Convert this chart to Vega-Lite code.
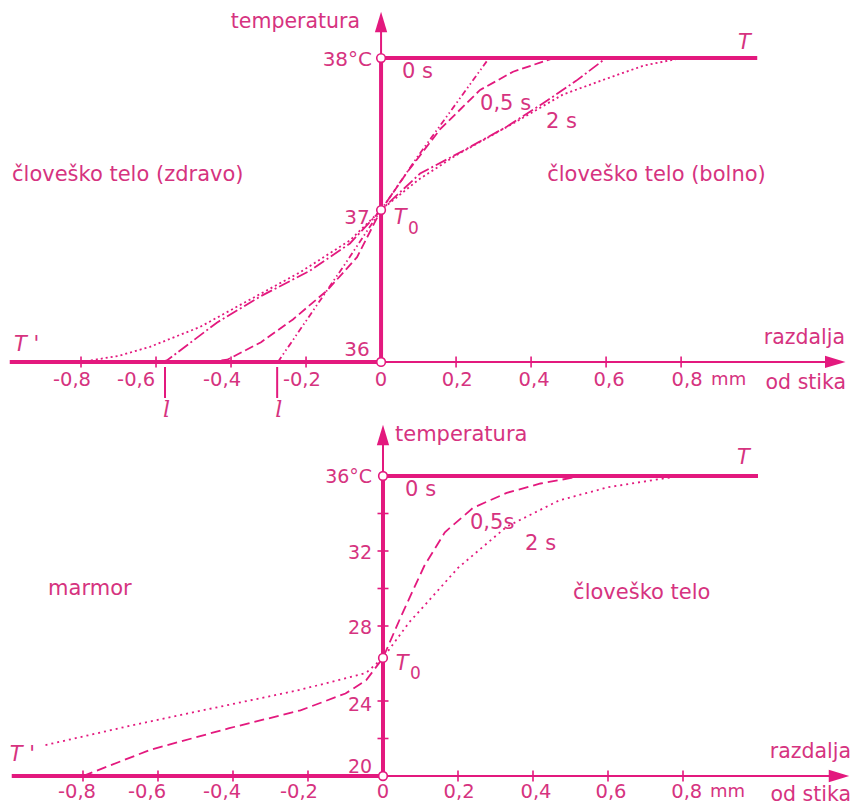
{
  "$schema": "https://vega.github.io/schema/vega-lite/v6.json",
  "padding": 0,
  "spacing": 0,
  "background": "white",
  "config": {"view": {"stroke": null}},
  "datasets": {
    "top": [
      {"kind": "curve", "series": "A", "x": -0.275, "t": 36.0},
      {"kind": "curve", "series": "A", "x": -0.2, "t": 36.27},
      {"kind": "curve", "series": "A", "x": -0.1, "t": 36.63},
      {"kind": "curve", "series": "A", "x": 0, "t": 37.0},
      {"kind": "curve", "series": "A", "x": 0.1, "t": 37.36},
      {"kind": "curve", "series": "A", "x": 0.2, "t": 37.7},
      {"kind": "curve", "series": "A", "x": 0.288, "t": 38.0},

      {"kind": "curve", "series": "B", "x": -0.46, "t": 36.0},
      {"kind": "curve", "series": "B", "x": -0.41, "t": 36.015},
      {"kind": "curve", "series": "B", "x": -0.32, "t": 36.13},
      {"kind": "curve", "series": "B", "x": -0.235, "t": 36.28},
      {"kind": "curve", "series": "B", "x": -0.144, "t": 36.47},
      {"kind": "curve", "series": "B", "x": -0.064, "t": 36.69},
      {"kind": "curve", "series": "B", "x": 0, "t": 37.0},
      {"kind": "curve", "series": "B", "x": 0.07, "t": 37.25},
      {"kind": "curve", "series": "B", "x": 0.157, "t": 37.53},
      {"kind": "curve", "series": "B", "x": 0.264, "t": 37.79},
      {"kind": "curve", "series": "B", "x": 0.352, "t": 37.91},
      {"kind": "curve", "series": "B", "x": 0.424, "t": 37.97},
      {"kind": "curve", "series": "B", "x": 0.46, "t": 38.0},

      {"kind": "curve", "series": "C", "x": -0.585, "t": 36.0},
      {"kind": "curve", "series": "C", "x": -0.571, "t": 36.01},
      {"kind": "curve", "series": "C", "x": -0.437, "t": 36.26},
      {"kind": "curve", "series": "C", "x": -0.323, "t": 36.43},
      {"kind": "curve", "series": "C", "x": -0.19, "t": 36.6},
      {"kind": "curve", "series": "C", "x": -0.083, "t": 36.78},
      {"kind": "curve", "series": "C", "x": 0, "t": 37.0},
      {"kind": "curve", "series": "C", "x": 0.104, "t": 37.24},
      {"kind": "curve", "series": "C", "x": 0.219, "t": 37.39},
      {"kind": "curve", "series": "C", "x": 0.336, "t": 37.55},
      {"kind": "curve", "series": "C", "x": 0.443, "t": 37.72},
      {"kind": "curve", "series": "C", "x": 0.52, "t": 37.85},
      {"kind": "curve", "series": "C", "x": 0.6, "t": 38.0},

      {"kind": "curve", "series": "D", "x": -0.8, "t": 36.0},
      {"kind": "curve", "series": "D", "x": -0.7, "t": 36.04},
      {"kind": "curve", "series": "D", "x": -0.616, "t": 36.1},
      {"kind": "curve", "series": "D", "x": -0.483, "t": 36.23},
      {"kind": "curve", "series": "D", "x": -0.35, "t": 36.41},
      {"kind": "curve", "series": "D", "x": -0.216, "t": 36.59},
      {"kind": "curve", "series": "D", "x": -0.083, "t": 36.8},
      {"kind": "curve", "series": "D", "x": 0, "t": 37.0},
      {"kind": "curve", "series": "D", "x": 0.1, "t": 37.2},
      {"kind": "curve", "series": "D", "x": 0.2, "t": 37.36},
      {"kind": "curve", "series": "D", "x": 0.28, "t": 37.47},
      {"kind": "curve", "series": "D", "x": 0.352, "t": 37.57},
      {"kind": "curve", "series": "D", "x": 0.485, "t": 37.76},
      {"kind": "curve", "series": "D", "x": 0.619, "t": 37.88},
      {"kind": "curve", "series": "D", "x": 0.7, "t": 37.95},
      {"kind": "curve", "series": "D", "x": 0.8, "t": 38.0},

      {"kind": "thick", "x": -0.99, "x2": 0, "t": 36, "t2": 36},
      {"kind": "thick", "x": 0, "x2": 1.003, "t": 38, "t2": 38},
      {"kind": "thick", "x": 0, "x2": 0, "t": 36, "t2": 38},
      {"kind": "thin", "x": 0, "x2": 1.2, "t": 36, "t2": 36},
      {"kind": "thin", "x": 0, "x2": 0, "t": 38, "t2": 38.2},
      {"kind": "thin", "x": -0.576, "x2": -0.576, "t": 35.967, "t2": 35.763},
      {"kind": "thin", "x": -0.277, "x2": -0.277, "t": 35.967, "t2": 35.763},

      {"kind": "arrowUp", "x": 0, "t": 38.237},
      {"kind": "arrowRight", "x": 1.211, "t": 36},

      {"kind": "circle", "x": 0, "t": 38},
      {"kind": "circle", "x": 0, "t": 37},
      {"kind": "circle", "x": 0, "t": 36},

      {"kind": "xtick", "x": -0.8, "t": 36},
      {"kind": "xtick", "x": -0.6, "t": 36},
      {"kind": "xtick", "x": -0.4, "t": 36},
      {"kind": "xtick", "x": -0.2, "t": 36},
      {"kind": "xtick", "x": 0.2, "t": 36},
      {"kind": "xtick", "x": 0.4, "t": 36},
      {"kind": "xtick", "x": 0.6, "t": 36},
      {"kind": "xtick", "x": 0.8, "t": 36},

      {"kind": "tickLab", "label": "-0,8", "x": -0.824, "t": 35.882},
      {"kind": "tickLab", "label": "-0,6", "x": -0.653, "t": 35.882},
      {"kind": "tickLab", "label": "-0,4", "x": -0.424, "t": 35.882},
      {"kind": "tickLab", "label": "-0,2", "x": -0.211, "t": 35.882},
      {"kind": "tickLab", "label": "0", "x": 0, "t": 35.882},
      {"kind": "tickLab", "label": "0,2", "x": 0.203, "t": 35.882},
      {"kind": "tickLab", "label": "0,4", "x": 0.408, "t": 35.882},
      {"kind": "tickLab", "label": "0,6", "x": 0.608, "t": 35.882},
      {"kind": "tickLab", "label": "0,8", "x": 0.816, "t": 35.882},
      {"kind": "mm", "label": "mm", "x": 0.88, "t": 35.882},

      {"kind": "yLab", "label": "38°C", "x": -0.024, "t": 37.99},
      {"kind": "yLab", "label": "37", "x": -0.03, "t": 36.95},
      {"kind": "yLab", "label": "36", "x": -0.03, "t": 36.08},

      {"kind": "labR", "label": "temperatura", "x": -0.056, "t": 38.237},
      {"kind": "labR", "label": "razdalja", "x": 1.237, "t": 36.158},
      {"kind": "labR", "label": "od stika", "x": 1.24, "t": 35.862},

      {"kind": "lab", "label": "človeško telo (zdravo)", "x": -0.984, "t": 37.23},
      {"kind": "lab", "label": "človeško telo (bolno)", "x": 0.443, "t": 37.23},
      {"kind": "lab", "label": "0 s", "x": 0.056, "t": 37.91},
      {"kind": "lab", "label": "0,5 s", "x": 0.264, "t": 37.70},
      {"kind": "lab", "label": "2 s", "x": 0.44, "t": 37.58},

      {"kind": "ital", "label": "T", "x": 0.952, "t": 38.1},
      {"kind": "ital", "label": "T", "x": 0.034, "t": 36.947},
      {"kind": "ital", "label": "T '", "x": -0.979, "t": 36.112},
      {"kind": "sub", "label": "0", "x": 0.072, "t": 36.875},
      {"kind": "italC", "label": "l", "x": -0.572, "t": 35.684},
      {"kind": "italC", "label": "l", "x": -0.273, "t": 35.684}
    ],
    "bottom": [
      {"kind": "curve", "series": "E", "x": -0.8, "t": 20.0},
      {"kind": "curve", "series": "E", "x": -0.62, "t": 21.4},
      {"kind": "curve", "series": "E", "x": -0.41, "t": 22.55},
      {"kind": "curve", "series": "E", "x": -0.22, "t": 23.5},
      {"kind": "curve", "series": "E", "x": -0.1, "t": 24.4},
      {"kind": "curve", "series": "E", "x": -0.045, "t": 25.1},
      {"kind": "curve", "series": "E", "x": 0, "t": 26.3},
      {"kind": "curve", "series": "E", "x": 0.05, "t": 28.6},
      {"kind": "curve", "series": "E", "x": 0.11, "t": 31.2},
      {"kind": "curve", "series": "E", "x": 0.165, "t": 33.0},
      {"kind": "curve", "series": "E", "x": 0.24, "t": 34.3},
      {"kind": "curve", "series": "E", "x": 0.33, "t": 35.1},
      {"kind": "curve", "series": "E", "x": 0.42, "t": 35.6},
      {"kind": "curve", "series": "E", "x": 0.53, "t": 36.0},

      {"kind": "curve", "series": "F", "x": -0.9, "t": 21.65},
      {"kind": "curve", "series": "F", "x": -0.67, "t": 22.7},
      {"kind": "curve", "series": "F", "x": -0.41, "t": 23.8},
      {"kind": "curve", "series": "F", "x": -0.22, "t": 24.6},
      {"kind": "curve", "series": "F", "x": -0.045, "t": 25.5},
      {"kind": "curve", "series": "F", "x": 0, "t": 26.3},
      {"kind": "curve", "series": "F", "x": 0.07, "t": 28.2},
      {"kind": "curve", "series": "F", "x": 0.12, "t": 29.3},
      {"kind": "curve", "series": "F", "x": 0.2, "t": 31.1},
      {"kind": "curve", "series": "F", "x": 0.33, "t": 33.3},
      {"kind": "curve", "series": "F", "x": 0.47, "t": 34.7},
      {"kind": "curve", "series": "F", "x": 0.6, "t": 35.4},
      {"kind": "curve", "series": "F", "x": 0.79, "t": 36.0},

      {"kind": "thick", "x": -0.99, "x2": 0, "t": 20, "t2": 20},
      {"kind": "thick", "x": 0, "x2": 1.0, "t": 36, "t2": 36},
      {"kind": "thick", "x": 0, "x2": 0, "t": 20, "t2": 36},
      {"kind": "thin", "x": 0, "x2": 1.2, "t": 20, "t2": 20},
      {"kind": "thin", "x": 0, "x2": 0, "t": 36, "t2": 38.0},

      {"kind": "arrowUp", "x": 0, "t": 38.19},
      {"kind": "arrowRight", "x": 1.216, "t": 20},

      {"kind": "circle", "x": 0, "t": 36},
      {"kind": "circle", "x": 0, "t": 26.3},
      {"kind": "circle", "x": 0, "t": 20},

      {"kind": "xtick", "x": -0.8, "t": 20},
      {"kind": "xtick", "x": -0.6, "t": 20},
      {"kind": "xtick", "x": -0.4, "t": 20},
      {"kind": "xtick", "x": -0.2, "t": 20},
      {"kind": "xtick", "x": 0.2, "t": 20},
      {"kind": "xtick", "x": 0.4, "t": 20},
      {"kind": "xtick", "x": 0.6, "t": 20},
      {"kind": "xtick", "x": 0.8, "t": 20},
      {"kind": "ytick", "x": 0, "t": 22},
      {"kind": "ytick", "x": 0, "t": 24},
      {"kind": "ytick", "x": 0, "t": 28},
      {"kind": "ytick", "x": 0, "t": 30},
      {"kind": "ytick", "x": 0, "t": 32},
      {"kind": "ytick", "x": 0, "t": 34},

      {"kind": "tickLab", "label": "-0,8", "x": -0.816, "t": 19.15},
      {"kind": "tickLab", "label": "-0,6", "x": -0.629, "t": 19.15},
      {"kind": "tickLab", "label": "-0,4", "x": -0.429, "t": 19.15},
      {"kind": "tickLab", "label": "-0,2", "x": -0.224, "t": 19.15},
      {"kind": "tickLab", "label": "0", "x": 0, "t": 19.15},
      {"kind": "tickLab", "label": "0,2", "x": 0.203, "t": 19.15},
      {"kind": "tickLab", "label": "0,4", "x": 0.408, "t": 19.15},
      {"kind": "tickLab", "label": "0,6", "x": 0.608, "t": 19.15},
      {"kind": "tickLab", "label": "0,8", "x": 0.81, "t": 19.15},
      {"kind": "mm", "label": "mm", "x": 0.872, "t": 19.15},

      {"kind": "yLab", "label": "36°C", "x": -0.029, "t": 35.95},
      {"kind": "yLab", "label": "32", "x": -0.029, "t": 31.9},
      {"kind": "yLab", "label": "28", "x": -0.029, "t": 27.9},
      {"kind": "yLab", "label": "24", "x": -0.029, "t": 23.8},
      {"kind": "yLab", "label": "20", "x": -0.029, "t": 20.5},

      {"kind": "labR", "label": "razdalja", "x": 1.248, "t": 21.3},
      {"kind": "labR", "label": "od stika", "x": 1.248, "t": 18.97},

      {"kind": "lab", "label": "temperatura", "x": 0.032, "t": 38.19},
      {"kind": "lab", "label": "0 s", "x": 0.059, "t": 35.25},
      {"kind": "lab", "label": "0,5s", "x": 0.232, "t": 33.5},
      {"kind": "lab", "label": "2 s", "x": 0.379, "t": 32.4},
      {"kind": "lab", "label": "marmor", "x": -0.893, "t": 30.0},
      {"kind": "lab", "label": "človeško telo", "x": 0.507, "t": 29.76},

      {"kind": "ital", "label": "T", "x": 0.944, "t": 36.96},
      {"kind": "ital", "label": "T", "x": 0.034, "t": 26.0},
      {"kind": "ital", "label": "T '", "x": -0.995, "t": 21.1},
      {"kind": "sub", "label": "0", "x": 0.072, "t": 25.45}
    ]
  },
  "vconcat": [
    {
      "width": 851,
      "height": 422,
      "data": {"name": "top"},
      "encoding": {
        "x": {"field": "x", "type": "quantitative", "scale": {"domain": [-1.016, 1.253], "nice": false, "zero": false}, "axis": null},
        "y": {"field": "t", "type": "quantitative", "scale": {"domain": [35.605, 38.382], "nice": false, "zero": false}, "axis": null}
      },
      "layer": [
        {"transform": [{"filter": "datum.kind === 'curve'"}], "mark": {"type": "line", "stroke": "#e3197e", "strokeWidth": 1.8, "clip": true},
         "encoding": {"strokeDash": {"field": "series", "type": "nominal", "scale": {"domain": ["A", "B", "C", "D", "E", "F"], "range": [[6, 3, 1.5, 3, 1.5, 3], [9, 4], [12, 3, 2, 3], [2, 3], [10, 5], [2, 4]]}, "legend": null}, "order": {"field": "x", "type": "quantitative"}}},
        {"transform": [{"filter": "datum.kind === 'thick'"}], "mark": {"type": "rule", "stroke": "#e3197e", "strokeWidth": 4, "clip": true},
         "encoding": {"x2": {"field": "x2"}, "y2": {"field": "t2"}}},
        {"transform": [{"filter": "datum.kind === 'thin'"}], "mark": {"type": "rule", "stroke": "#e3197e", "strokeWidth": 2, "clip": true},
         "encoding": {"x2": {"field": "x2"}, "y2": {"field": "t2"}}},
        {"transform": [{"filter": "datum.kind === 'xtick'"}], "mark": {"type": "tick", "orient": "vertical", "size": 11, "thickness": 1.6, "color": "#e3197e", "opacity": 1, "clip": true}},
        {"transform": [{"filter": "datum.kind === 'arrowUp'"}], "mark": {"type": "point", "shape": "M0,-1L0.6,1L-0.6,1Z", "size": 420, "filled": true, "color": "#e3197e", "opacity": 1, "clip": true}},
        {"transform": [{"filter": "datum.kind === 'arrowRight'"}], "mark": {"type": "point", "shape": "M1,0L-1,0.6L-1,-0.6Z", "size": 420, "filled": true, "color": "#e3197e", "opacity": 1, "clip": true}},
        {"transform": [{"filter": "datum.kind === 'circle'"}], "mark": {"type": "point", "shape": "circle", "size": 75, "filled": true, "fill": "white", "stroke": "#e3197e", "strokeWidth": 1.6, "opacity": 1, "clip": true}},
        {"transform": [{"filter": "datum.kind === 'tickLab'"}], "mark": {"type": "text", "align": "center", "baseline": "middle", "font": "DejaVu Sans", "fontSize": 19.5, "fill": "#d6337f", "clip": true}, "encoding": {"text": {"field": "label"}}},
        {"transform": [{"filter": "datum.kind === 'mm'"}], "mark": {"type": "text", "align": "left", "baseline": "middle", "font": "DejaVu Sans", "fontSize": 18, "fill": "#d6337f", "clip": true}, "encoding": {"text": {"field": "label"}}},
        {"transform": [{"filter": "datum.kind === 'yLab'"}], "mark": {"type": "text", "align": "right", "baseline": "middle", "font": "DejaVu Sans", "fontSize": 20, "fill": "#d6337f", "clip": true}, "encoding": {"text": {"field": "label"}}},
        {"transform": [{"filter": "datum.kind === 'labR'"}], "mark": {"type": "text", "align": "right", "baseline": "middle", "font": "DejaVu Sans", "fontSize": 20.5, "fill": "#d6337f", "clip": true}, "encoding": {"text": {"field": "label"}}},
        {"transform": [{"filter": "datum.kind === 'lab'"}], "mark": {"type": "text", "align": "left", "baseline": "middle", "font": "DejaVu Sans", "fontSize": 21, "fill": "#d6337f", "clip": true}, "encoding": {"text": {"field": "label"}}},
        {"transform": [{"filter": "datum.kind === 'ital'"}], "mark": {"type": "text", "align": "left", "baseline": "middle", "font": "DejaVu Sans", "fontStyle": "italic", "fontSize": 21, "fill": "#d6337f", "clip": true}, "encoding": {"text": {"field": "label"}}},
        {"transform": [{"filter": "datum.kind === 'sub'"}], "mark": {"type": "text", "align": "left", "baseline": "middle", "font": "DejaVu Sans", "fontSize": 17, "fill": "#d6337f", "clip": true}, "encoding": {"text": {"field": "label"}}},
        {"transform": [{"filter": "datum.kind === 'italC'"}], "mark": {"type": "text", "align": "center", "baseline": "middle", "font": "DejaVu Serif", "fontStyle": "italic", "fontSize": 22, "fill": "#d6337f", "clip": true}, "encoding": {"text": {"field": "label"}}}
      ]
    },
    {
      "width": 851,
      "height": 384,
      "data": {"name": "bottom"},
      "encoding": {
        "x": {"field": "x", "type": "quantitative", "scale": {"domain": [-1.0213, 1.248], "nice": false, "zero": false}, "axis": null},
        "y": {"field": "t", "type": "quantitative", "scale": {"domain": [18.4, 38.88], "nice": false, "zero": false}, "axis": null}
      },
      "layer": [
        {"transform": [{"filter": "datum.kind === 'curve'"}], "mark": {"type": "line", "stroke": "#e3197e", "strokeWidth": 1.8, "clip": true},
         "encoding": {"strokeDash": {"field": "series", "type": "nominal", "scale": {"domain": ["A", "B", "C", "D", "E", "F"], "range": [[6, 3, 1.5, 3, 1.5, 3], [9, 4], [12, 3, 2, 3], [2, 3], [10, 5], [2, 4]]}, "legend": null}, "order": {"field": "x", "type": "quantitative"}}},
        {"transform": [{"filter": "datum.kind === 'thick'"}], "mark": {"type": "rule", "stroke": "#e3197e", "strokeWidth": 4, "clip": true},
         "encoding": {"x2": {"field": "x2"}, "y2": {"field": "t2"}}},
        {"transform": [{"filter": "datum.kind === 'thin'"}], "mark": {"type": "rule", "stroke": "#e3197e", "strokeWidth": 2, "clip": true},
         "encoding": {"x2": {"field": "x2"}, "y2": {"field": "t2"}}},
        {"transform": [{"filter": "datum.kind === 'xtick'"}], "mark": {"type": "tick", "orient": "vertical", "size": 11, "thickness": 1.6, "color": "#e3197e", "opacity": 1, "clip": true}},
        {"transform": [{"filter": "datum.kind === 'ytick'"}], "mark": {"type": "tick", "orient": "horizontal", "size": 11, "thickness": 1.6, "color": "#e3197e", "opacity": 1, "clip": true}},
        {"transform": [{"filter": "datum.kind === 'arrowUp'"}], "mark": {"type": "point", "shape": "M0,-1L0.6,1L-0.6,1Z", "size": 420, "filled": true, "color": "#e3197e", "opacity": 1, "clip": true}},
        {"transform": [{"filter": "datum.kind === 'arrowRight'"}], "mark": {"type": "point", "shape": "M1,0L-1,0.6L-1,-0.6Z", "size": 420, "filled": true, "color": "#e3197e", "opacity": 1, "clip": true}},
        {"transform": [{"filter": "datum.kind === 'circle'"}], "mark": {"type": "point", "shape": "circle", "size": 75, "filled": true, "fill": "white", "stroke": "#e3197e", "strokeWidth": 1.6, "opacity": 1, "clip": true}},
        {"transform": [{"filter": "datum.kind === 'tickLab'"}], "mark": {"type": "text", "align": "center", "baseline": "middle", "font": "DejaVu Sans", "fontSize": 19.5, "fill": "#d6337f", "clip": true}, "encoding": {"text": {"field": "label"}}},
        {"transform": [{"filter": "datum.kind === 'mm'"}], "mark": {"type": "text", "align": "left", "baseline": "middle", "font": "DejaVu Sans", "fontSize": 18, "fill": "#d6337f", "clip": true}, "encoding": {"text": {"field": "label"}}},
        {"transform": [{"filter": "datum.kind === 'yLab'"}], "mark": {"type": "text", "align": "right", "baseline": "middle", "font": "DejaVu Sans", "fontSize": 19, "fill": "#d6337f", "clip": true}, "encoding": {"text": {"field": "label"}}},
        {"transform": [{"filter": "datum.kind === 'labR'"}], "mark": {"type": "text", "align": "right", "baseline": "middle", "font": "DejaVu Sans", "fontSize": 20.5, "fill": "#d6337f", "clip": true}, "encoding": {"text": {"field": "label"}}},
        {"transform": [{"filter": "datum.kind === 'lab'"}], "mark": {"type": "text", "align": "left", "baseline": "middle", "font": "DejaVu Sans", "fontSize": 21, "fill": "#d6337f", "clip": true}, "encoding": {"text": {"field": "label"}}},
        {"transform": [{"filter": "datum.kind === 'ital'"}], "mark": {"type": "text", "align": "left", "baseline": "middle", "font": "DejaVu Sans", "fontStyle": "italic", "fontSize": 21, "fill": "#d6337f", "clip": true}, "encoding": {"text": {"field": "label"}}},
        {"transform": [{"filter": "datum.kind === 'sub'"}], "mark": {"type": "text", "align": "left", "baseline": "middle", "font": "DejaVu Sans", "fontSize": 17, "fill": "#d6337f", "clip": true}, "encoding": {"text": {"field": "label"}}}
      ]
    }
  ]
}
